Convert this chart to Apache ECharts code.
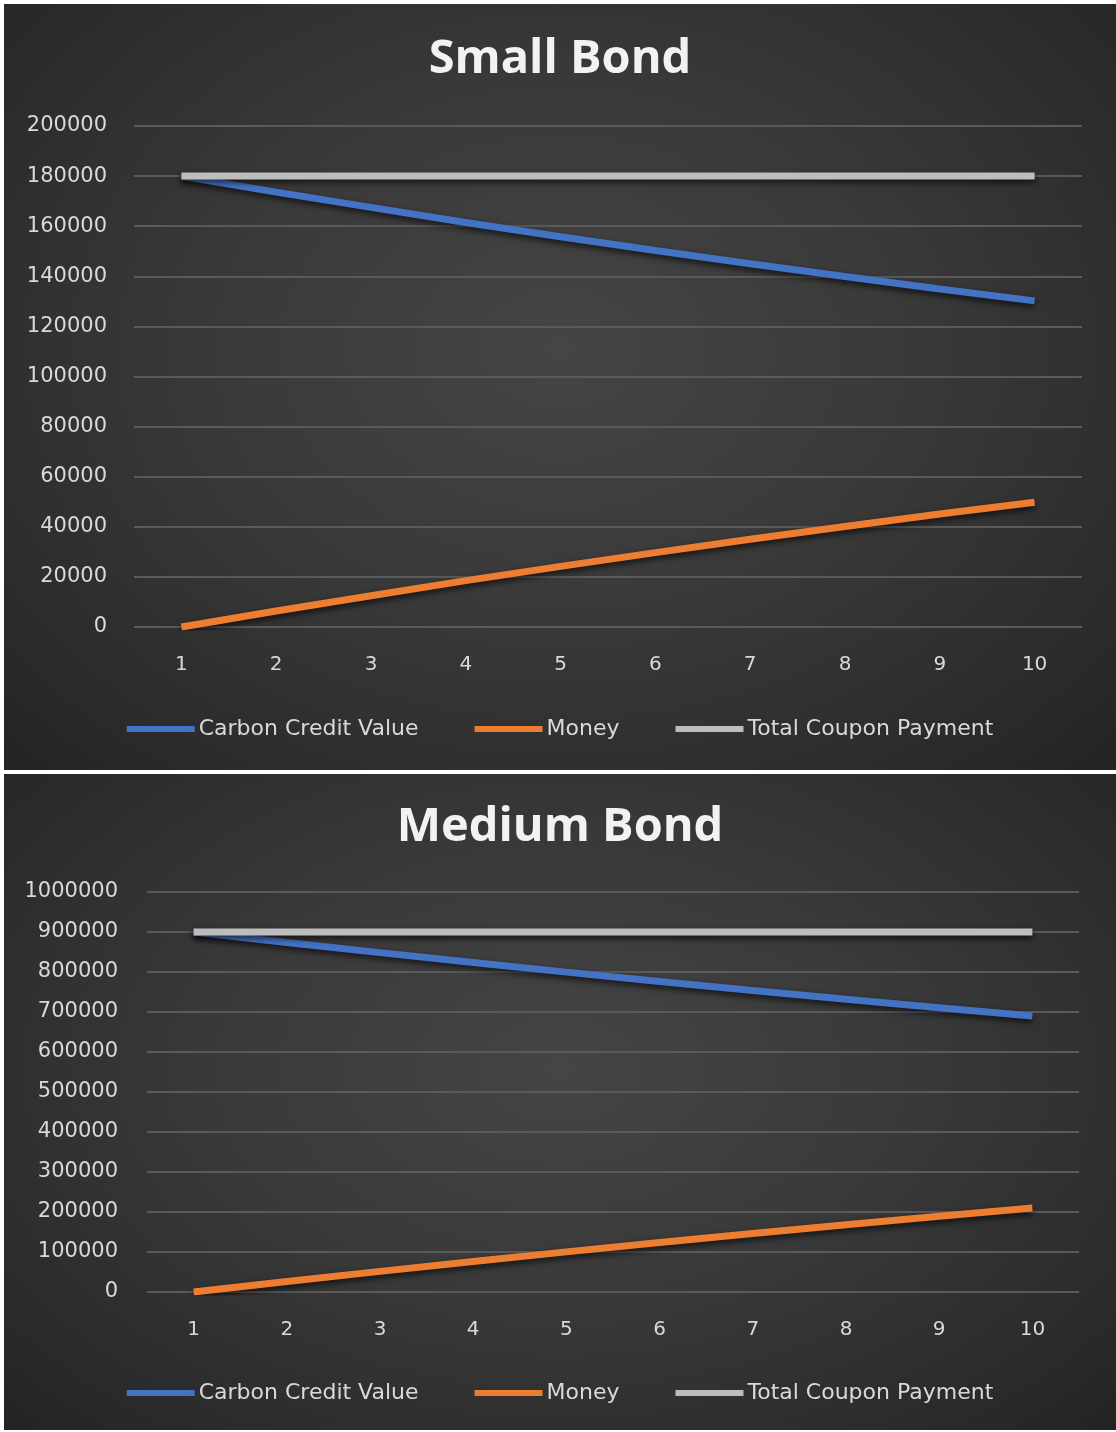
<html>
<head>
    <meta charset="utf-8">
    <title>Bonds</title>
    <script src="https://cdn.jsdelivr.net/npm/echarts@6/dist/echarts.min.js"></script>
    <style>
        body {
            margin: 0;
            background: #ffffff;
            width: 1116px;
            height: 1432px;
            position: relative;
            overflow: hidden;
        }

        .panel {
            position: absolute;
            left: 4px;
            width: 1112px;
            background: radial-gradient(ellipse at 50% 45%, #454545 0%, #393939 45%, #2a2a2a 85%, #232323 100%);
        }
    </style>
</head>
<body>
<div id="small" class="panel" style="top: 4px; height: 766px;"></div>
<div id="medium" class="panel" style="top: 774px; height: 656px;"></div>

<script>
    // 年份
    var years = ['1', '2', '3', '4', '5', '6', '7', '8', '9', '10'];
    var legendNames = ['Carbon Credit Value', 'Money', 'Total Coupon Payment'];

    // Small Bond
    var smallCarbon = [180000, 173600, 167500, 161500, 155800, 150300, 145000, 139900, 134900, 130200];
    var smallMoney = [0, 6400, 12500, 18500, 24200, 29700, 35000, 40100, 45100, 49800];
    var smallCoupon = [180000, 180000, 180000, 180000, 180000, 180000, 180000, 180000, 180000, 180000];
    var smallTicks = [0, 200000, 20000];

    // Medium Bond
    var mediumCarbon = [900000, 873800, 848400, 823700, 799700, 776400, 753800, 731800, 710500, 690000];
    var mediumMoney = [0, 26200, 51600, 76300, 100300, 123600, 146200, 168200, 189500, 210000];
    var mediumCoupon = [900000, 900000, 900000, 900000, 900000, 900000, 900000, 900000, 900000, 900000];
    var mediumTicks = [0, 1000000, 100000];

    var colors = ['#4472c4', '#ed7d31', '#bdbdbd'];
    var titleFont = '"Open Sans", "DejaVu Sans", sans-serif';
    var font = '"DejaVu Sans", sans-serif';

    function lineSeries(name, data, color) {
        return {
            name: name,
            type: 'line',
            data: data,
            symbol: 'none',
            lineStyle: {
                width: 7,
                color: color,
                shadowBlur: 6,
                shadowColor: 'rgba(0,0,0,0.7)',
                shadowOffsetY: 3
            },
            itemStyle: {color: color}
        };
    }

    function buildOption(title, carbon, money, coupon, ticks, g) {
        return {
            backgroundColor: 'transparent',
            color: colors,
            animation: false,
            title: {
                text: title,
                left: 'center',
                top: g.titleTop,
                textStyle: {
                    color: '#f2f2f2',
                    fontFamily: titleFont,
                    fontWeight: 'bold',
                    fontSize: 47
                }
            },
            legend: {
                data: legendNames,
                left: 'center',
                top: g.legendTop,
                icon: 'rect',
                itemWidth: 68,
                itemHeight: 6,
                itemGap: 56,
                textStyle: {color: '#d9d9d9', fontFamily: font, fontSize: 22, padding: [0, 0, 0, -1]}
            },
            grid: {left: g.left, top: g.top, right: g.right, height: g.height},
            xAxis: {
                type: 'category',
                data: years,
                boundaryGap: true,
                axisLine: {show: false},
                axisTick: {show: false},
                axisLabel: {color: '#d9d9d9', fontFamily: font, fontSize: 20, margin: 28}
            },
            yAxis: {
                type: 'value',
                min: ticks[0],
                max: ticks[1],
                interval: ticks[2],
                axisLine: {show: false},
                axisTick: {show: false},
                axisLabel: {
                    color: '#d9d9d9', fontFamily: font, fontSize: 21, margin: g.labelMargin,
                    formatter: function (v) { return String(v); }
                },
                splitLine: {lineStyle: {color: '#5a5a5a', width: 2}}
            },
            series: [
                lineSeries(legendNames[0], carbon, colors[0]),
                lineSeries(legendNames[1], money, colors[1]),
                lineSeries(legendNames[2], coupon, colors[2])
            ]
        };
    }

    var smallChart = echarts.init(document.getElementById('small'));
    smallChart.setOption(buildOption('Small Bond', smallCarbon, smallMoney, smallCoupon, smallTicks, {
        titleTop: 27, legendTop: 709, left: 130, top: 122, right: 34, height: 501, labelMargin: 27
    }));

    var mediumChart = echarts.init(document.getElementById('medium'));
    mediumChart.setOption(buildOption('Medium Bond', mediumCarbon, mediumMoney, mediumCoupon, mediumTicks, {
        titleTop: 25, legendTop: 603, left: 143, top: 118, right: 37, height: 400, labelMargin: 29
    }));
</script>
</body>
</html>
